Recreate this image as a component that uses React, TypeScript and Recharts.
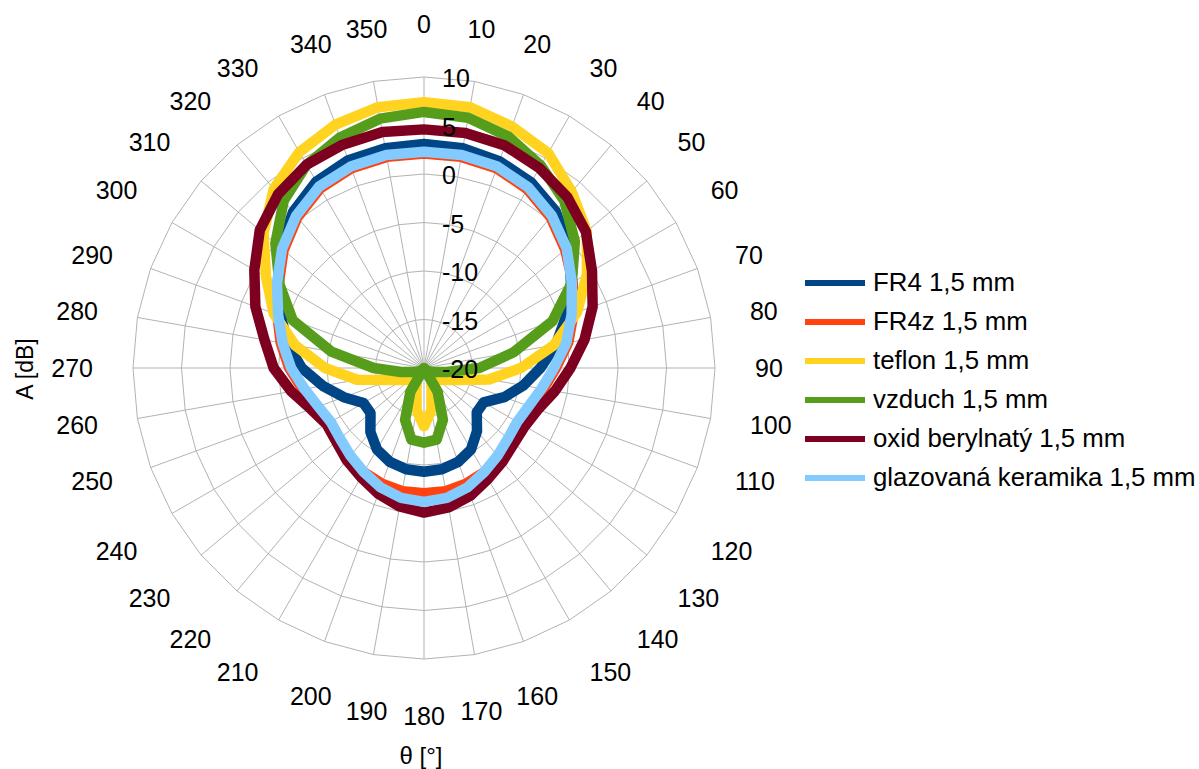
import React from 'react';
import { RadarChart, Radar, PolarGrid, PolarAngleAxis, PolarRadiusAxis, Legend } from 'recharts';

// angle of measurement, degrees
const angles = [
  0, 10, 20, 30, 40, 50, 60, 70, 80, 90, 100, 110, 120, 130, 140, 150, 160, 170,
  180, 190, 200, 210, 220, 230, 240, 250, 260, 270, 280, 290, 300, 310, 320, 330, 340, 350
];

// A [dB] per substrate
const fr4 = [
  3.1, 3.0, 2.7, 2.1, 1.1, -0.5, -2.5, -4.4, -6.2, -8.0, -9.6, -11.2, -12.9, -12.9, -11.5, -10.3, -9.7, -9.4,
  -9.3, -9.4, -9.7, -10.3, -11.4, -12.8, -12.8, -11.2, -9.4, -7.4, -5.7, -4.3, -2.6, -0.7, 1.0, 2.2, 2.8, 3.0
];
const fr4z = [
  2.1, 2.1, 1.9, 1.3, 0.3, -1.0, -2.3, -3.6, -4.9, -6.4, -7.5, -8.3, -8.7, -8.5, -8.0, -7.6, -7.3, -7.1,
  -7.1, -7.1, -7.3, -7.6, -8.0, -8.5, -8.7, -8.2, -7.3, -6.1, -5.0, -3.9, -2.7, -1.1, 0.3, 1.4, 1.9, 2.1
];
const teflon = [
  7.4, 7.3, 6.5, 5.6, 3.7, 1.9, -0.6, -3.2, -6.4, -10.0, -13.2, -16.4, -17.5, -18.1, -18.4, -18.5, -17.7, -15.6,
  -14.0, -15.6, -17.7, -18.5, -18.4, -18.1, -17.5, -16.4, -13.0, -9.8, -6.5, -3.5, -1.2, 1.6, 4.1, 5.7, 6.7, 7.3
];
const vzduch = [
  6.4, 6.2, 5.4, 4.1, 2.5, 0.3, -2.4, -5.9, -10.6, -14.3, -17.6, -18.8, -19.2, -19.6, -20, -17.2, -14.3, -12.5,
  -12.3, -12.5, -14.3, -17.2, -20, -19.6, -19.2, -18.8, -17.6, -14.8, -10.3, -5.6, -2.8, 0.0, 2.5, 4.2, 5.3, 6.1
];
const oxid = [
  4.6, 4.6, 4.4, 3.8, 3.0, 1.8, 0.0, -1.5, -3.2, -4.9, -6.3, -7.5, -8.0, -7.9, -7.4, -6.8, -6.0, -5.4,
  -5.1, -5.5, -6.2, -7.0, -7.6, -8.2, -8.4, -7.6, -6.1, -4.5, -3.3, -1.5, 0.2, 2.1, 3.4, 4.2, 4.5, 4.7
];
const glazovana = [
  2.3, 2.3, 2.1, 1.5, 0.5, -0.8, -2.4, -3.8, -5.1, -6.6, -7.7, -8.5, -8.9, -8.7, -8.2, -7.6, -6.9, -6.4,
  -6.2, -6.4, -6.9, -7.6, -8.2, -8.7, -8.9, -8.4, -7.5, -6.3, -5.2, -4.0, -2.5, -0.9, 0.5, 1.6, 2.1, 2.3
];

const series = [
  { key: 'fr4', name: 'FR4 1,5 mm', color: '#004586', values: fr4 },
  { key: 'fr4z', name: 'FR4z 1,5 mm', color: '#ff420e', values: fr4z },
  { key: 'teflon', name: 'teflon 1,5 mm', color: '#ffd320', values: teflon },
  { key: 'vzduch', name: 'vzduch 1,5 mm', color: '#579d1c', values: vzduch },
  { key: 'oxid', name: 'oxid berylnatý 1,5 mm', color: '#7e0021', values: oxid },
  { key: 'glazovana', name: 'glazovaná keramika 1,5 mm', color: '#83caff', values: glazovana }
];

const data = angles.map((angle, i) => {
  const row: any = { angle };
  series.forEach(s => { row[s.key] = s.values[i]; });
  return row;
});

const CX = 424;
const CY = 368;
const OUTER = 291;
const LABEL_R = 331;

const AngleTick = (props: any) => {
  const a = Number(props.payload.value);
  const rad = (a * Math.PI) / 180;
  const s = Math.sin(rad);
  const c = Math.cos(rad);
  const x = CX + LABEL_R * s;
  const y = CY - LABEL_R * c;
  const anchor = Math.abs(s) < 0.35 ? 'middle' : s > 0 ? 'start' : 'end';
  // text sits above the point at the top, below it at the bottom
  const dy = c > 0.45 ? -4 : c < -0.45 ? 26 : 9;
  return (
    <text x={x} y={y + dy} textAnchor={anchor} fontSize={25} fill="#000">
      {a}
    </text>
  );
};

const RadiusTick = (props: any) => (
  <text x={props.x + 18} y={props.y + 10} textAnchor="start" fontSize={25} fill="#000">
    {props.payload.value}
  </text>
);

const renderLegend = () => (
  <div>
    {series.map(s => (
      <div key={s.key} style={styles.legendRow}>
        <span style={{ ...styles.legendLine, backgroundColor: s.color }} />
        <span>{s.name}</span>
      </div>
    ))}
  </div>
);

const App: React.FC = () => {
  return (
    <div style={styles.page}>
      <RadarChart
        width={1199}
        height={769}
        data={data}
        cx={CX}
        cy={CY}
        outerRadius={OUTER}
        margin={{ top: 0, right: 0, bottom: 0, left: 0 }}
      >
        <PolarGrid gridType="polygon" stroke="#b3b3b3" />
        <PolarAngleAxis dataKey="angle" tick={AngleTick} tickLine={false} axisLine={false} />
        {series.map(s => (
          <Radar
            key={s.key}
            dataKey={s.key}
            name={s.name}
            stroke={s.color}
            strokeWidth={10.5}
            strokeLinejoin="round"
            fill="none"
            fillOpacity={0}
            dot={false}
            isAnimationActive={false}
          />
        ))}
        <PolarRadiusAxis
          angle={90}
          domain={[-20, 10]}
          tickCount={7}
          type="number"
          axisLine={false}
          tickLine={false}
          tick={RadiusTick}
        />
        <Legend content={renderLegend} wrapperStyle={{ left: 805, top: 263, width: 394 }} />
      </RadarChart>
      <div style={styles.yTitle}>A [dB]</div>
      <div style={styles.xTitle}>θ [°]</div>
    </div>
  );
};

const styles = {
  page: {
    position: 'absolute' as const,
    left: 0,
    top: 0,
    width: 1199,
    height: 769,
    backgroundColor: 'white',
    fontFamily: '"Liberation Sans", Arial, sans-serif',
    color: '#000'
  },
  legendRow: {
    display: 'flex',
    alignItems: 'center',
    height: 39,
    fontSize: 25.8,
    whiteSpace: 'nowrap' as const
  },
  legendLine: {
    display: 'inline-block',
    width: 60,
    height: 6,
    marginRight: 8
  },
  yTitle: {
    position: 'absolute' as const,
    left: 25,
    top: 369,
    transform: 'translate(-50%, -50%) rotate(-90deg)',
    fontSize: 23,
    whiteSpace: 'nowrap' as const
  },
  xTitle: {
    position: 'absolute' as const,
    left: 421,
    top: 756,
    transform: 'translate(-50%, -50%)',
    fontSize: 24,
    whiteSpace: 'nowrap' as const
  }
};

export default App;
